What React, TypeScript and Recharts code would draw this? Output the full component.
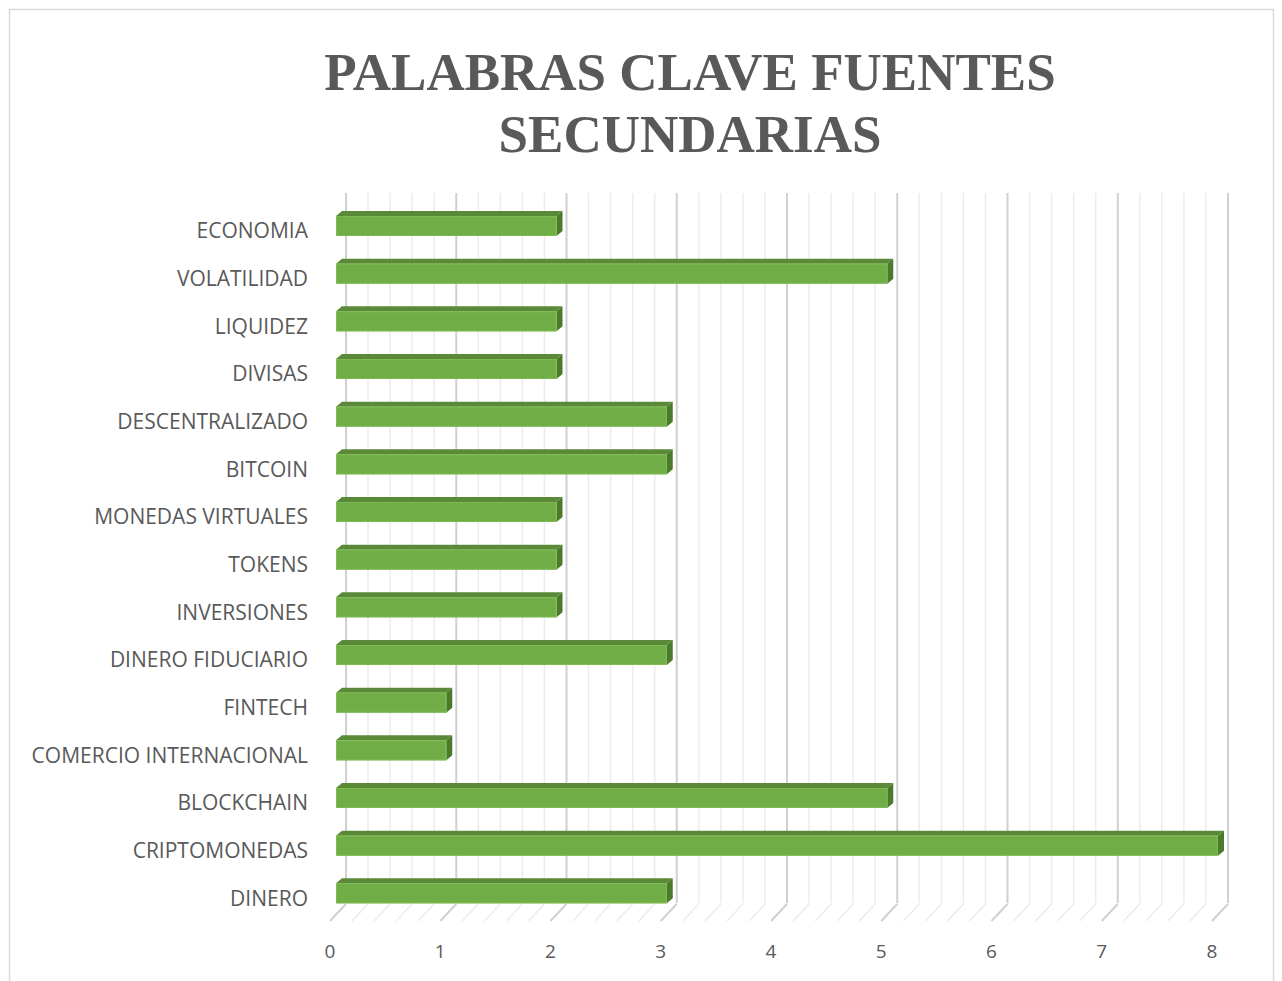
import React from "react";
import { BarChart, Bar, XAxis, YAxis, CartesianGrid } from "recharts";

const categories = [
  "ECONOMIA",
  "VOLATILIDAD",
  "LIQUIDEZ",
  "DIVISAS",
  "DESCENTRALIZADO",
  "BITCOIN",
  "MONEDAS VIRTUALES",
  "TOKENS",
  "INVERSIONES",
  "DINERO FIDUCIARIO",
  "FINTECH",
  "COMERCIO INTERNACIONAL",
  "BLOCKCHAIN",
  "CRIPTOMONEDAS",
  "DINERO",
];
const counts = [2, 5, 2, 2, 3, 3, 2, 2, 2, 3, 1, 1, 5, 8, 3];
const majorTicks = [0, 1, 2, 3, 4, 5, 6, 7, 8];
const minorPerMajor = 5;

const titleLines = ["PALABRAS CLAVE FUENTES", "SECUNDARIAS"];

const data = categories.map((name, i) => ({ name, value: counts[i] }));
const allTicks: number[] = [];
for (let i = 0; i < majorTicks.length - 1; i++) {
  for (let k = 0; k < minorPerMajor; k++) {
    allTicks.push(majorTicks[i] + (k * (majorTicks[i + 1] - majorTicks[i])) / minorPerMajor);
  }
}
allTicks.push(majorTicks[majorTicks.length - 1]);
const minorTicks = allTicks.filter((t) => !majorTicks.includes(t));
const X_MIN = majorTicks[0];
const X_MAX = majorTicks[majorTicks.length - 1];

const W = 1282;
const H = 981;
const BAR_DX = 6;
const BAR_DY = 5;
const WALL_DX = 10; // wall offset from bar front plane
const FLOOR_FRONT_DX = -6;
const FONT = "'Open Sans', sans-serif";

const Bar3D = (props: any) => {
  const { x, y, width, height } = props;
  if (width == null || width <= 0) return null;
  const x2 = x + width;
  const y2 = y + height;
  return (
    <g>
      <polygon
        points={`${x},${y} ${x + BAR_DX},${y - BAR_DY} ${x2 + BAR_DX},${y - BAR_DY} ${x2},${y}`}
        fill="#5a8a38"
      />
      <polygon
        points={`${x2},${y} ${x2 + BAR_DX},${y - BAR_DY} ${x2 + BAR_DX},${y2 - BAR_DY} ${x2},${y2}`}
        fill="#4b7a2b"
      />
      <rect x={x} y={y} width={width} height={height} fill="#70ad47" />
      <rect x={x + 0.5} y={y + 0.5} width={width - 1} height={height - 1} fill="none" stroke="#7dbb52" strokeWidth={1} />
    </g>
  );
};

const FloorTick = (props: any) => {
  const { x, y, payload } = props;
  const v = payload.value;
  const isMajor = majorTicks.includes(v);
  return (
    <g>
      <line
        x1={x + FLOOR_FRONT_DX}
        y1={y + 4}
        x2={x + WALL_DX}
        y2={y - 13}
        stroke={isMajor ? "#d0d0d0" : "#ececec"}
        strokeWidth={isMajor ? 2 : 1.5}
      />
      {isMajor && (
        <text x={x + FLOOR_FRONT_DX} y={y + 41} textAnchor="middle" fill="#595959" fontSize={19} fontFamily={FONT}>
          {v}
        </text>
      )}
    </g>
  );
};

const CategoryTick = (props: any) => {
  const { x, y, payload } = props;
  return (
    <text x={x} y={y + 5} dy="0.355em" textAnchor="end" fill="#595959" fontSize={21} fontFamily={FONT}>
      {payload.value}
    </text>
  );
};

const mapX = (args: any, t: number): number => {
  const scale = args?.xAxis?.scale;
  if (typeof scale === "function") return scale(t);
  if (scale && typeof scale.map === "function") {
    const r = scale.map(t);
    if (typeof r === "number") return r;
  }
  const off = args?.offset || {};
  return off.left + ((t - X_MIN) / (X_MAX - X_MIN)) * off.width;
};

const gen = (ticks: number[]) => (args: any) => ticks.map((t) => mapX(args, t) + WALL_DX);

export default function App() {
  return (
    <div style={{ position: "absolute", left: 0, top: 0, width: W, height: H, background: "#fff" }}>
      <svg width={W} height={H} style={{ position: "absolute", left: 0, top: 0 }}>
        <rect x={9.5} y={9.5} width={1264} height={990} fill="#fff" stroke="#d9d9d9" strokeWidth={1.5} />
        {titleLines.map((t, i) => (
          <text
            key={t}
            x={690}
            y={90 + i * 62}
            textAnchor="middle"
            fill="#595959"
            fontSize={53}
            fontWeight="bold"
            fontFamily="'Liberation Serif', 'Times New Roman', serif"
          >
            {t}
          </text>
        ))}
      </svg>
      <div style={{ position: "absolute", left: 0, top: 0 }}>
        <BarChart
          width={W}
          height={H}
          data={data}
          layout="vertical"
          margin={{ top: 202, right: 64, bottom: 24, left: 0 }}
          barCategoryGap={0}
        >
          <CartesianGrid
            horizontal={false}
            y={193}
            height={710}
            stroke="#ececec"
            strokeWidth={1.5}
            verticalCoordinatesGenerator={gen(minorTicks)}
          />
          <CartesianGrid
            horizontal={false}
            y={193}
            height={710}
            stroke="#d0d0d0"
            strokeWidth={2}
            verticalCoordinatesGenerator={gen(majorTicks)}
          />
          <XAxis
            type="number"
            domain={[X_MIN, X_MAX]}
            ticks={allTicks}
            interval={0}
            axisLine={false}
            tickLine={false}
            tickSize={0}
            tickMargin={0}
            height={40}
            tick={<FloorTick />}
          />
          <YAxis
            type="category"
            dataKey="name"
            width={336}
            axisLine={false}
            tickLine={false}
            tickSize={0}
            tickMargin={28}
            interval={0}
            tick={<CategoryTick />}
          />
          <Bar dataKey="value" barSize={20} shape={<Bar3D />} isAnimationActive={false} />
        </BarChart>
      </div>
    </div>
  );
}
